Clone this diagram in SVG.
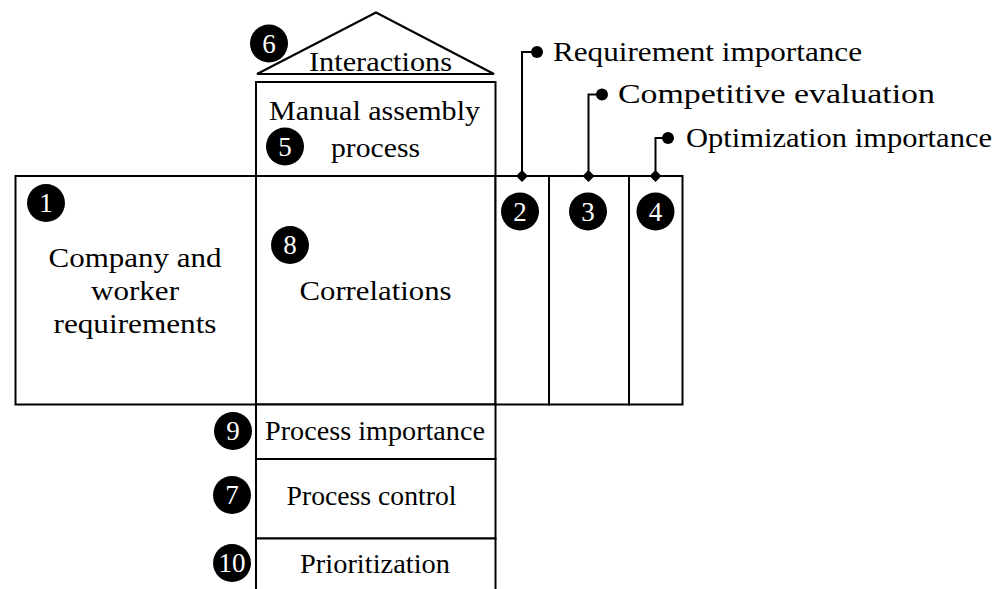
<svg xmlns="http://www.w3.org/2000/svg" width="1006" height="589" viewBox="0 0 1006 589">
  <style>
    .box { fill: #ffffff; stroke: #000000; stroke-width: 2; }
    .lbl { font-family: "Liberation Serif", "Times New Roman", serif; font-size: 28px; fill: #000000; }
    .badge { fill: #000000; }
    .num { font-family: "Liberation Serif", "Times New Roman", serif; font-size: 27px; fill: #ffffff; text-anchor: middle; }
    .lead { fill: none; stroke: #000000; stroke-width: 2; }
    .dot { fill: #000000; }
  </style>
  <defs>
    <marker id="diamond" viewBox="-7 -7 14 14" markerWidth="14" markerHeight="14" markerUnits="userSpaceOnUse" refX="0" refY="0" orient="0">
      <path d="M0,-6 L6,0 L0,6 L-6,0 Z" fill="#000000"/>
    </marker>
  </defs>
  <rect width="1006" height="589" fill="#ffffff"/>

  <!-- roof: interactions -->
  <g id="interactions">
    <polygon class="box" points="257,74 376,12.5 494,74"/>
    <text class="lbl" x="309" y="70.5" textLength="143" lengthAdjust="spacingAndGlyphs">Interactions</text>
    <circle class="badge" cx="269" cy="43.5" r="19"/>
    <text class="num" x="269" y="52.5">6</text>
  </g>

  <!-- manual assembly process -->
  <g id="manual-assembly">
    <rect class="box" x="256" y="82" width="239.5" height="94"/>
    <text class="lbl" x="269" y="120" textLength="211" lengthAdjust="spacingAndGlyphs">Manual assembly</text>
    <text class="lbl" x="331" y="156.5" textLength="89" lengthAdjust="spacingAndGlyphs">process</text>
    <circle class="badge" cx="285" cy="146.5" r="19"/>
    <text class="num" x="285" y="155.5">5</text>
  </g>

  <!-- company and worker requirements -->
  <g id="requirements">
    <rect class="box" x="15.5" y="176" width="240.5" height="228.5"/>
    <text class="lbl" x="135" y="266.5" text-anchor="middle" textLength="173" lengthAdjust="spacingAndGlyphs">Company and</text>
    <text class="lbl" x="135" y="299.5" text-anchor="middle" textLength="88" lengthAdjust="spacingAndGlyphs">worker</text>
    <text class="lbl" x="135" y="332.5" text-anchor="middle" textLength="163" lengthAdjust="spacingAndGlyphs">requirements</text>
    <circle class="badge" cx="46" cy="203" r="19"/>
    <text class="num" x="46" y="212">1</text>
  </g>

  <!-- correlations matrix -->
  <g id="correlations">
    <rect class="box" x="256" y="176" width="239.5" height="228.5"/>
    <text class="lbl" x="375.5" y="300" text-anchor="middle" textLength="152" lengthAdjust="spacingAndGlyphs">Correlations</text>
    <circle class="badge" cx="290" cy="245" r="19"/>
    <text class="num" x="290" y="254">8</text>
  </g>

  <!-- right-hand rating columns -->
  <g id="requirement-importance">
    <rect class="box" x="495.5" y="176" width="53.5" height="228.5"/>
    <circle class="badge" cx="520" cy="211.5" r="19"/>
    <text class="num" x="520" y="220.5">2</text>
  </g>
  <g id="competitive-evaluation">
    <rect class="box" x="549" y="176" width="80" height="228.5"/>
    <circle class="badge" cx="588" cy="211.5" r="19"/>
    <text class="num" x="588" y="220.5">3</text>
  </g>
  <g id="optimization-importance">
    <rect class="box" x="629" y="176" width="53.5" height="228.5"/>
    <circle class="badge" cx="655.5" cy="211.5" r="19"/>
    <text class="num" x="655.5" y="220.5">4</text>
  </g>

  <!-- lower rows under the matrix -->
  <g id="process-importance">
    <rect class="box" x="256" y="404.5" width="239.5" height="54.5"/>
    <text class="lbl" x="265" y="440" textLength="220" lengthAdjust="spacingAndGlyphs">Process importance</text>
    <circle class="badge" cx="233" cy="431" r="19"/>
    <text class="num" x="233" y="440">9</text>
  </g>
  <g id="process-control">
    <rect class="box" x="256" y="459" width="239.5" height="79.5"/>
    <text class="lbl" x="371.5" y="505" text-anchor="middle" textLength="170" lengthAdjust="spacingAndGlyphs">Process control</text>
    <circle class="badge" cx="232" cy="495" r="19"/>
    <text class="num" x="232" y="504">7</text>
  </g>
  <g id="prioritization">
    <rect class="box" x="256" y="538.5" width="239.5" height="70"/>
    <text class="lbl" x="375" y="573" text-anchor="middle" textLength="150" lengthAdjust="spacingAndGlyphs">Prioritization</text>
    <circle class="badge" cx="232" cy="563" r="19"/>
    <text class="num" x="232" y="572" textLength="27" lengthAdjust="spacingAndGlyphs">10</text>
  </g>

  <!-- leader lines from the rating columns to their captions -->
  <g id="connectors">
    <path class="lead" d="M522,176 V52 H537" marker-start="url(#diamond)"/>
    <circle class="dot" cx="537" cy="52" r="6"/>
    <path class="lead" d="M588.5,176 V94.5 H602" marker-start="url(#diamond)"/>
    <circle class="dot" cx="602" cy="94.5" r="6"/>
    <path class="lead" d="M655.5,176 V138 H668" marker-start="url(#diamond)"/>
    <circle class="dot" cx="668" cy="138" r="6"/>
  </g>

  <!-- captions of the rating columns -->
  <g id="captions">
    <text class="lbl" x="553" y="60.5" textLength="309" lengthAdjust="spacingAndGlyphs">Requirement importance</text>
    <text class="lbl" x="618" y="103" textLength="317" lengthAdjust="spacingAndGlyphs">Competitive evaluation</text>
    <text class="lbl" x="686" y="146.5" textLength="306" lengthAdjust="spacingAndGlyphs">Optimization importance</text>
  </g>
</svg>
